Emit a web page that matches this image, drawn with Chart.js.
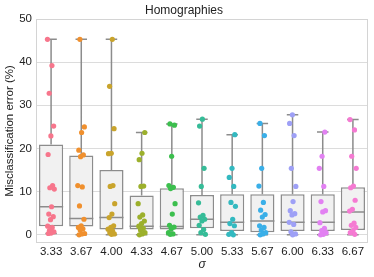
<!DOCTYPE html>
<html>
<head>
<meta charset="utf-8">
<script src="https://cdn.jsdelivr.net/npm/chart.js@4.4.1/dist/chart.umd.min.js"></script>
<style>
  html, body { margin: 0; padding: 0; background: #fff; }
  #wrap { width: 374px; height: 277px; }
</style>
</head>
<body>
<div id="wrap"><canvas id="grafico"></canvas></div>
<script>
// categorias (sigma)
const sigmas = ['3.33', '3.67', '4.00', '4.33', '4.67', '5.00', '5.33', '5.67', '6.00', '6.33', '6.67'];

// estatisticas das caixas (%)
const q1 = [2.0, 1.9, 1.2, 1.2, 1.2, 1.5, 0.9, 0.6, 0.9, 0.9, 1.1];
const medianas = [6.5, 3.8, 4.0, 2.0, 1.9, 3.6, 2.9, 3.2, 2.9, 2.9, 5.3];
const q3 = [20.9, 18.4, 15.0, 9.1, 10.8, 9.2, 9.4, 9.4, 9.4, 9.4, 11.0];
const bigodeMin = [0.3, 0.0, 0.0, 0.0, 0.0, 0.0, 0.0, 0.0, 0.0, 0.0, 0.0];
const bigodeMax = [45.3, 45.3, 45.3, 23.7, 25.7, 26.8, 23.2, 25.8, 27.8, 23.8, 26.7];

// pontos individuais de cada sigma
const p333 = [45.3, 39.2, 32.8, 25.2, 22.9, 18.6, 11.4, 10.9, 10.6, 6.5, 4.8, 4.2, 3.5, 2.0, 1.7, 1.0, 0.7, 0.4, 0.3];
const p367 = [45.3, 25.0, 23.7, 19.6, 18.5, 18.1, 11.4, 11.1, 6.7, 3.6, 2.1, 1.7, 1.4, 1.1, 0.3, 0.2, 0.0];
const p400 = [45.3, 34.4, 24.6, 18.9, 18.8, 11.4, 11.2, 7.2, 4.8, 4.0, 2.1, 1.7, 1.3, 0.9, 0.5, 0.2, 0.1];
const p433 = [23.7, 18.9, 17.4, 11.3, 11.2, 7.2, 4.6, 4.1, 3.2, 2.6, 2.0, 1.5, 1.1, 0.5, 0.2, 0.0];
const p467 = [25.7, 25.4, 18.2, 11.4, 11.0, 10.7, 7.2, 4.8, 2.2, 1.8, 1.4, 0.5, 0.2, 0.1];
const p500 = [26.8, 25.2, 15.4, 11.2, 7.4, 4.5, 4.1, 3.6, 3.2, 2.2, 1.2, 0.5, 0.1];
const p533 = [23.2, 15.4, 13.3, 11.2, 7.5, 6.6, 3.6, 2.6, 2.1, 0.5, 0.1, 0.0];
const p567 = [25.8, 23.0, 15.4, 11.3, 7.5, 5.7, 4.7, 4.1, 2.1, 1.7, 1.1, 0.5, 0.2, 0.0];
const p600 = [27.8, 25.8, 23.0, 15.4, 11.2, 7.7, 5.6, 4.9, 4.6, 2.9, 2.4, 0.7, 0.2, 0.0];
const p633 = [23.8, 18.2, 15.4, 11.2, 7.7, 5.6, 5.3, 2.8, 1.5, 1.0, 0.5, 0.1, 0.0];
const p667 = [26.7, 24.3, 18.2, 15.4, 11.3, 10.9, 8.0, 5.9, 5.5, 2.7, 2.2, 1.7, 1.0, 0.5, 0.1];
const pontos = [p333, p367, p400, p433, p467, p500, p533, p567, p600, p633, p667];

const cores = ['#f7768c', '#f0902e', '#c9a42c', '#9cb02c', '#3cbf4e', '#36bc98',
               '#33b9c0', '#3aafe8', '#9ea0f6', '#e281f2', '#f57ad2'];

const corLinha = '#8c8c8c';

// caixas (barras flutuantes)
const caixas = sigmas.map((s, i) => ({ x: i, y: [q1[i], q3[i]] }));

// bigodes, tampas e medianas como segmentos separados por null
const segmentos = [];
const gap = i => ({ x: i, y: null });
sigmas.forEach((s, i) => {
    segmentos.push({ x: i, y: q3[i] }, { x: i, y: bigodeMax[i] }, gap(i));
    segmentos.push({ x: i, y: q1[i] }, { x: i, y: bigodeMin[i] }, gap(i));
    segmentos.push({ x: i - 0.19, y: bigodeMax[i] }, { x: i + 0.19, y: bigodeMax[i] }, gap(i));
    segmentos.push({ x: i - 0.19, y: bigodeMin[i] }, { x: i + 0.19, y: bigodeMin[i] }, gap(i));
    segmentos.push({ x: i - 0.4, y: medianas[i] }, { x: i + 0.4, y: medianas[i] }, gap(i));
});

// pontos com pequeno deslocamento horizontal (jitter deterministico)
const datasetsPontos = pontos.map((vals, i) => ({
    type: 'scatter',
    data: vals.map((v, j) => ({ x: i + (((j * 0.618034 + i * 0.31) % 1) - 0.5) * 0.24, y: v })),
    backgroundColor: cores[i],
    borderWidth: 0,
    pointRadius: 2.6,
    order: 0
}));

const moldura = {
    id: 'moldura',
    beforeDatasetsDraw(chart) {
        const { ctx, chartArea: a } = chart;
        ctx.save();
        ctx.strokeStyle = '#d4d4d4';
        ctx.lineWidth = 1;
        ctx.strokeRect(Math.round(a.left) + 0.5, Math.round(a.top) + 0.5,
                       Math.round(a.right - a.left) - 1, Math.round(a.bottom - a.top) - 1);
        ctx.restore();
    }
};

const fonte = { family: '"Liberation Sans", Arial, sans-serif', size: 11.5 };

new Chart(document.getElementById('grafico'), {
    type: 'bar',
    data: {
        datasets: [
            ...datasetsPontos,
            {
                type: 'line',
                data: segmentos,
                borderColor: corLinha,
                borderWidth: 1.5,
                pointRadius: 0,
                spanGaps: false,
                order: 1
            },
            {
                type: 'bar',
                data: caixas,
                backgroundColor: '#f1f1f1',
                borderColor: corLinha,
                borderWidth: 1.5,
                borderSkipped: false,
                barPercentage: 0.8,
                categoryPercentage: 1,
                order: 2
            }
        ]
    },
    options: {
        responsive: true,
        maintainAspectRatio: false,
        animation: false,
        layout: { padding: { left: 0, right: 6, top: 0, bottom: 0 } },
        plugins: {
            legend: { display: false },
            tooltip: { enabled: false },
            title: {
                display: true,
                text: 'Homographies',
                color: '#222',
                font: { family: fonte.family, size: 12, weight: 'normal' },
                padding: { top: 3, bottom: 1.6 }
            }
        },
        scales: {
            x: {
                type: 'linear',
                min: -0.5,
                max: 10.5,
                offset: false,
                grid: { display: false, drawTicks: false },
                border: { display: false },
                afterBuildTicks: sc => { sc.ticks = sigmas.map((s, i) => ({ value: i })); },
                afterFit: sc => { sc.height = 34; },
                ticks: {
                    callback: v => sigmas[v],
                    color: '#222',
                    font: fonte,
                    padding: 2,
                    autoSkip: false,
                    maxRotation: 0
                },
                title: {
                    display: true,
                    text: 'σ',
                    color: '#222',
                    font: { family: fonte.family, size: 12, style: 'italic' },
                    padding: { top: 0, bottom: 4.8 }
                }
            },
            y: {
                type: 'linear',
                min: -1.9,
                max: 50,
                grid: { color: '#dcdcdc', lineWidth: 1, drawTicks: false },
                border: { display: false },
                afterBuildTicks: sc => { sc.ticks = [0, 10, 20, 30, 40, 50].map(v => ({ value: v })); },
                afterFit: sc => { sc.width = 36; },
                ticks: { color: '#222', font: fonte, padding: 4 },
                title: {
                    display: true,
                    text: 'Misclassification error (%)',
                    color: '#222',
                    font: fonte,
                    padding: { top: 3, bottom: 0 }
                }
            }
        }
    },
    plugins: [moldura]
});
</script>
</body>
</html>
